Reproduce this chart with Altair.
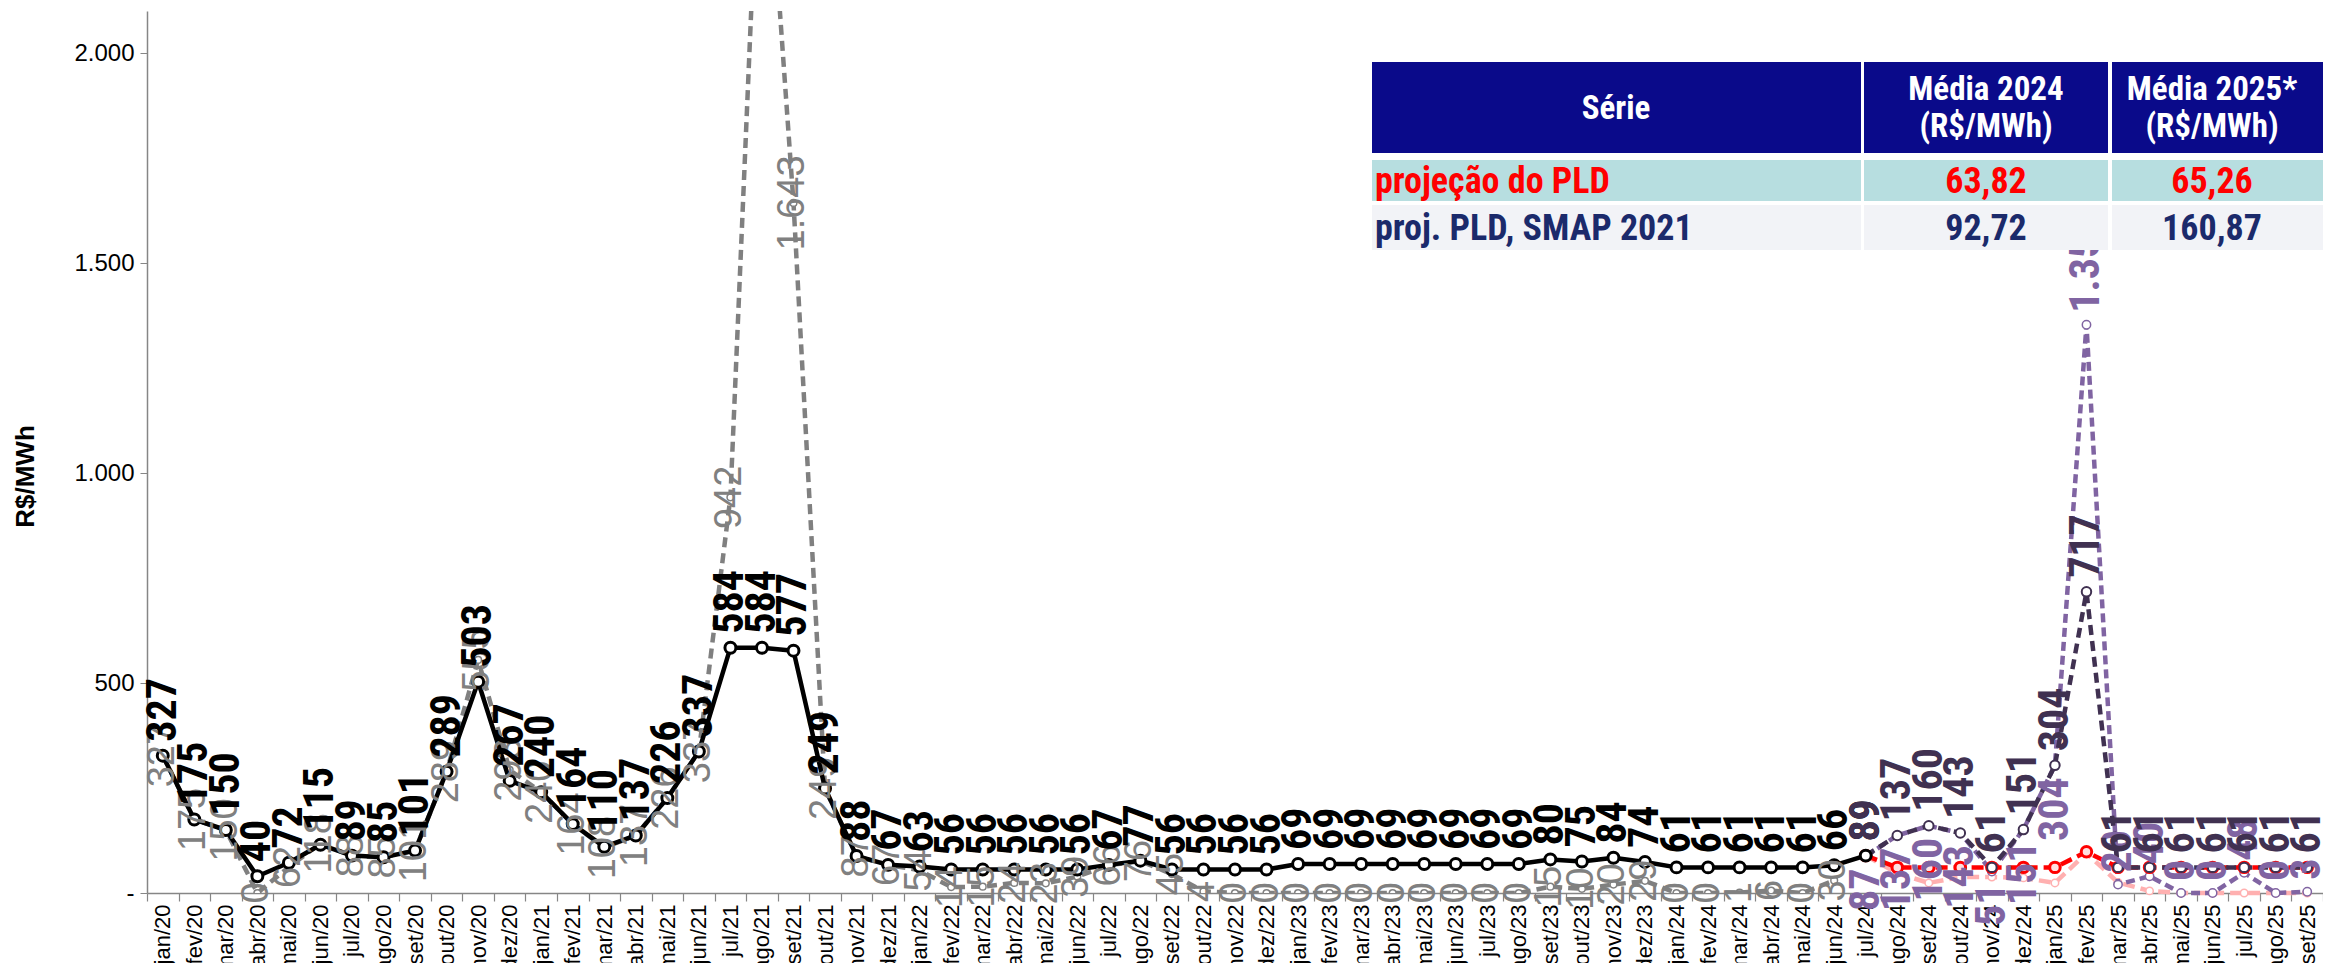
import altair as alt
import pandas as pd

FONT = "Liberation Sans"
FONT_LBL = "Liberation Sans Narrow, Roboto Condensed, Liberation Sans"

# ---------------- data ----------------
mes = ["jan", "fev", "mar", "abr", "mai", "jun", "jul", "ago", "set", "out", "nov", "dez"]
anos = ["20", "21", "22", "23", "24", "25"]
months = [f"{m}/{a}" for a in anos for m in mes][:69]  # jan/20 .. set/25

# PLD realizado (preto) jan/20 - jul/24
pld_realizado = [327, 175, 150, 40, 72, 115, 89, 85, 101, 289, 503, 267,
                 240, 164, 110, 137, 226, 337, 584, 584, 577, 249, 88, 67,
                 63, 56, 56, 56, 56, 56, 67, 77, 56, 56, 56, 56,
                 69, 69, 69, 69, 69, 69, 69, 69, 80, 75, 84, 74,
                 61, 61, 61, 61, 61, 66, 89]

# série cinza tracejada jan/20 - jun/24
pld_cinza = [327, 175, 150, 0, 62, 118, 88, 85, 101, 289, 555, 293,
             240, 164, 108, 137, 226, 337, 942, 2700, 1643, 249, 87, 67,
             54, 14, 15, 24, 23, 39, 66, 76, 45, 4, 0, 0,
             0, 0, 0, 0, 0, 0, 0, 0, 15, 10, 20, 29,
             0, 0, 1, 6, 0, 30]

# projeções jul/24 - set/25
smap_escuro = [89, 137, 160, 143, 61, 151, 304, 717, 61, 61, 61, 61, 61, 61, 61]
smap_claro = [87, 137, 160, 143, 51, 151, 304, 1353, 20, 40, 0, 0, 48, 0, 3]
proj_pld = [89, 61, 61, 61, 61, 61, 61, 98, 61, 61, 61, 61, 61, 61, 61]
proj_pld_rosa = [89, 47, 24, 38, 38, 36, 24, 95, 25, 5, 0, 0, 0, 0, 0]

inicio_proj = months.index("jul/24")

# tabela
tab_header = [["Série"], ["Média 2024", "(R$/MWh)"], ["Média 2025*", "(R$/MWh)"]]
tab_rows = [["projeção do PLD", "63,82", "65,26"],
            ["proj. PLD, SMAP 2021", "92,72", "160,87"]]


def serie(vals, start):
    return pd.DataFrame({"month": months[start:start + len(vals)], "v": vals})


df_real = serie(pld_realizado, 0)
df_cinza = serie(pld_cinza, 0)
df_esc = serie(smap_escuro, inicio_proj)
df_cla = serie(smap_claro, inicio_proj)
df_red = serie(proj_pld, inicio_proj)
df_rosa = serie(proj_pld_rosa, inicio_proj)

# ---------------- encodings ----------------
X = alt.X("month:N", sort=months, bandPosition=0.5,
          scale=alt.Scale(type="band", domain=months, paddingInner=0, paddingOuter=0),
          axis=alt.Axis(title=None, labelAngle=270, labelFontSize=22, labelFont=FONT,
                        labelColor="black", tickBand="extent", tickSize=8,
                        tickColor="#868686", domainColor="#868686", domainWidth=1.5,
                        tickWidth=1.2, labelPadding=3, labelOverlap=False, grid=False))
Y = alt.Y("v:Q",
          scale=alt.Scale(domain=[0, 2100], nice=False, zero=True),
          axis=alt.Axis(values=[0, 500, 1000, 1500, 2000],
                        labelExpr="datum.value == 0 ? '-' : replace(format(datum.value, ','), ',', '.')",
                        labelFontSize=24, labelFont=FONT, labelColor="black",
                        title="R$/MWh", titleFont=FONT, titleFontSize=26,
                        titleFontWeight="bold", titleColor="black",
                        titleX=-122, titleY=465, titleAlign="center", titleBaseline="middle",
                        tickSize=7, tickColor="#868686", domainColor="#868686",
                        domainWidth=1.5, grid=False, labelPadding=6))

LBL = "replace(format(datum.v, ','), ',', '.')"


def linha(df, color, width, dash=None, clip=False):
    kw = dict(color=color, strokeWidth=width, clip=clip, strokeJoin="round")
    if dash:
        kw["strokeDash"] = dash
    return alt.Chart(df).mark_line(**kw).encode(x=X, y=Y)


def pontos(df, stroke, size, sw, fill="white", clip=False):
    return alt.Chart(df).mark_point(shape="circle", filled=True, fill=fill, stroke=stroke,
                                    strokeWidth=sw, size=size, opacity=1,
                                    clip=clip).encode(x=X, y=Y)


def rotulos(df, color, size, bold, align, dx, filt=None, font=FONT):
    ch = alt.Chart(df).transform_calculate(lbl=LBL)
    if filt:
        ch = ch.transform_filter(filt)
    return ch.mark_text(angle=270, align=align, baseline="middle", dx=dx,
                        font=font, fontSize=size,
                        fontWeight="bold" if bold else "normal",
                        color=color).encode(x=X, y=Y, text="lbl:N")


GRAY = "#808080"
BLACK = "#000000"
DARKP = "#403151"
LIGHTP = "#8064A2"
RED = "#FF0000"
PINK = "#FFB0B0"

layers = [
    linha(df_cinza, GRAY, 4.5, [10, 6], clip=True),
    pontos(df_cinza, GRAY, 45, 1.5, clip=True),
    linha(df_rosa, PINK, 4.5, [12, 6]),
    pontos(df_rosa, PINK, 55, 1.5),
    linha(df_cla, LIGHTP, 4.5, [9, 5]),
    pontos(df_cla, LIGHTP, 70, 1.5),
    linha(df_red, RED, 4.5, [12, 6]),
    pontos(df_red, RED, 110, 3, fill="#FFE0E0"),
    linha(df_esc, DARKP, 4.5, [10, 6]),
    pontos(df_esc, DARKP, 90, 2),
    linha(df_real, BLACK, 4.5),
    pontos(df_real, BLACK, 120, 3),
    rotulos(df_cinza, GRAY, 38, False, "center", 0, "datum.v <= 2100"),
    rotulos(df_real, BLACK, 42, True, "left", 14, font=FONT_LBL),
    rotulos(df_cla, LIGHTP, 42, True, "right", -12, "datum.v >= 50 && datum.v < 1000", font=FONT_LBL),
    rotulos(df_cla, LIGHTP, 42, True, "left", 12, "datum.v < 50 || datum.v >= 1000", font=FONT_LBL),
    rotulos(df_esc, DARKP, 42, True, "left", 14, font=FONT_LBL),
]

# ---------------- tabela (sobreposta, pixels relativos à área do gráfico) ----------------
col_edges = [(1225, 1714), (1717, 1961), (1965, 2190)]
row_edges = [(51, 142), (149, 190), (194, 239)]
row_fills = ["#0A0A8A", "#B7DEE0", "#F2F3F7"]
row_text = ["#FFFFFF", "#FF0000", "#1B2A6B"]
col_centers = [1469, 1839, 2065]
line_gap = 37

cells = []
texts_h = []
texts_c = []
texts_l = []
for r, (y1, y2) in enumerate(row_edges):
    for c, (x1, x2) in enumerate(col_edges):
        cells.append({"x1": x1, "x2": x2, "y1": y1, "y2": y2, "fill": row_fills[r]})
        yc = (y1 + y2) / 2 + 1
        if r == 0:
            lines = tab_header[c]
            n = len(lines)
            for k, t in enumerate(lines):
                texts_h.append({"tx": col_centers[c], "ty": yc + (k - (n - 1) / 2) * line_gap,
                                "t": t, "c": row_text[r]})
        else:
            t = tab_rows[r - 1][c]
            if c == 0:
                texts_l.append({"tx": x1 + 3, "ty": yc, "t": t, "c": row_text[r]})
            else:
                texts_c.append({"tx": col_centers[c], "ty": yc, "t": t, "c": row_text[r]})

df_cells = pd.DataFrame(cells)
df_th = pd.DataFrame(texts_h)
df_tc = pd.DataFrame(texts_c)
df_tl = pd.DataFrame(texts_l)

tab_rect = alt.Chart(df_cells).mark_rect().encode(
    x=alt.X("x1:Q", scale=None, axis=None), x2="x2:Q",
    y=alt.Y("y1:Q", scale=None, axis=None), y2="y2:Q",
    color=alt.Color("fill:N", scale=None))


def tab_text(df, align, size):
    return alt.Chart(df).mark_text(align=align, baseline="middle", font=FONT_LBL, fontSize=size,
                                   fontWeight="bold").encode(
        x=alt.X("tx:Q", scale=None, axis=None),
        y=alt.Y("ty:Q", scale=None, axis=None),
        text="t:N",
        color=alt.Color("c:N", scale=None))


layers += [tab_rect, tab_text(df_th, "center", 33), tab_text(df_tc, "center", 36),
           tab_text(df_tl, "left", 36)]

chart = alt.layer(*layers).properties(
    width=2176, height=882,
    padding={"left": 139, "top": 3, "right": 0, "bottom": 70},
    autosize=alt.AutoSizeParams(type="none"),
    background="white",
).configure_view(strokeWidth=0)

chart.save("out.html", embed_options={"renderer": "svg", "actions": False})
